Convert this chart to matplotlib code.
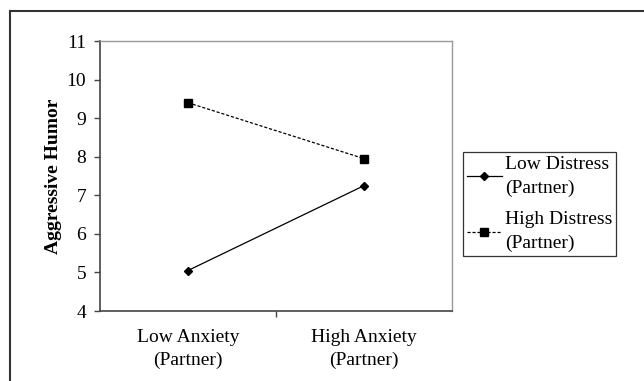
import matplotlib.pyplot as plt
from matplotlib.lines import Line2D

# 数据
categories = ["Low Anxiety\n(Partner)", "High Anxiety\n(Partner)"]
low_distress = [5.05, 7.25]
high_distress = [9.4, 7.95]
series_labels = ["Low Distress\n(Partner)", "High Distress\n(Partner)"]

plt.rcParams['font.family'] = ['Liberation Serif', 'DejaVu Serif']

fig = plt.figure(figsize=(6.44, 3.81), dpi=100)
ax = fig.add_axes([100/644, 1-311/381, 352/644, 270/381])

x = list(range(len(categories)))
ax.plot(x, low_distress, color='black', lw=0.9, marker='D', markersize=4,
        label=series_labels[0])
ax.plot(x, high_distress, color='black', lw=0.9, ls=(0, (2.5, 1.5)), marker='s',
        markersize=6, label=series_labels[1])

ax.set_xlim(-0.5, 1.5)
ax.set_ylim(4, 11)
ax.set_yticks(range(4, 12))
ax.tick_params(axis='y', direction='out', length=4, width=1, color='#444444',
               labelsize=14, pad=6)

# x轴: 中间刻度线, 类别标签放在次刻度
ax.set_xticks([0.5])
ax.set_xticklabels([""])
ax.set_xticks(x, minor=True)
ax.set_xticklabels(categories, minor=True, fontsize=14, linespacing=1.42)
ax.tick_params(axis='x', which='major', direction='out', length=4, width=1, color='#444444')
ax.tick_params(axis='x', which='minor', length=0, pad=13)

for s in ['left', 'bottom']:
    ax.spines[s].set_color('#444444')
    ax.spines[s].set_linewidth(1.2)
for s in ['top', 'right']:
    ax.spines[s].set_color('#999999')
    ax.spines[s].set_linewidth(1.0)

ax.set_ylabel("Aggressive Humor", fontsize=14, fontweight='bold', labelpad=3)

leg = ax.legend(loc='upper left', bbox_to_anchor=(463/644, 1-152/381),
                bbox_transform=fig.transFigure, fontsize=14, frameon=True,
                fancybox=False, edgecolor='black', handlelength=1.8,
                handletextpad=0.15, borderpad=0.2, labelspacing=0.75,
                borderaxespad=0)
leg.get_frame().set_linewidth(0.9)
for t in leg.get_texts():
    t.set_linespacing(1.5)

# 外框 (左边和上边)
fig.add_artist(Line2D([10/644, 1], [1-11/381, 1-11/381], transform=fig.transFigure,
                      color='#333333', lw=1.5))
fig.add_artist(Line2D([10/644, 10/644], [0, 1-11/381], transform=fig.transFigure,
                      color='#333333', lw=1.5))

plt.savefig("out.png", dpi=100)
